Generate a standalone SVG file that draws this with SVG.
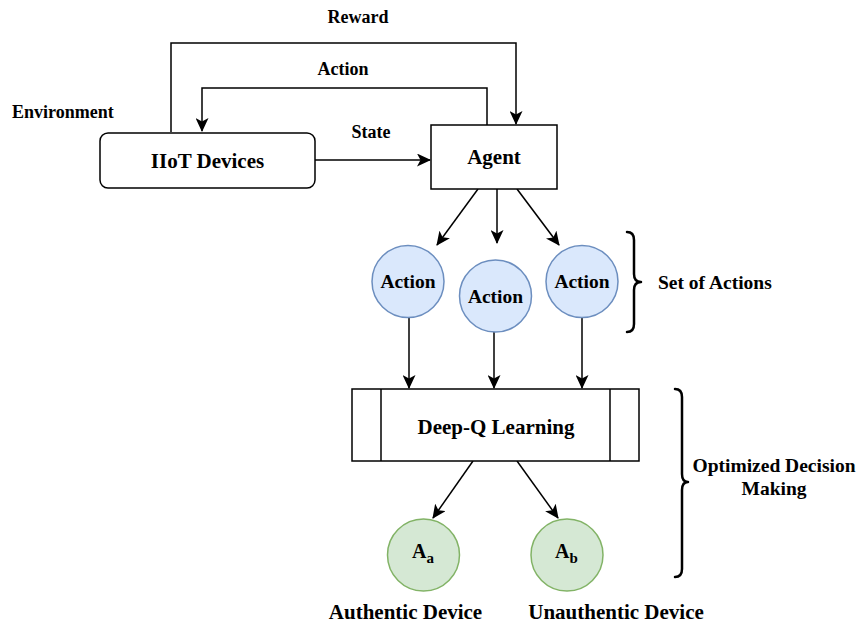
<svg xmlns="http://www.w3.org/2000/svg" width="858" height="625" viewBox="0 0 858 625">
  <style>
    .lbl { font-family: "Liberation Serif", "Times New Roman", serif; font-weight: bold; fill: #000; }
    .node { font-size: 21px; }
    .side { font-size: 19.5px; }
    .edge { font-size: 18px; }
    .box { fill: #fff; stroke: #000; stroke-width: 1.5; }
    .act { fill: #dae8fc; stroke: #6c8ebf; stroke-width: 1.5; }
    .out { fill: #d5e8d4; stroke: #82b366; stroke-width: 1.5; }
    .conn { fill: none; stroke: #000; stroke-width: 1.5; }
    .brace { fill: none; stroke: #000; stroke-width: 2.5; stroke-linecap: round; stroke-linejoin: round; }
  </style>
  <defs>
    <marker id="arrow" markerUnits="userSpaceOnUse" markerWidth="15" markerHeight="13" refX="13" refY="6.5" orient="auto">
      <path d="M0,0 L14,6.5 L0,13 L3.5,6.5 Z" fill="#000"/>
    </marker>
  </defs>
  <rect width="858" height="625" fill="#fff"/>

  <!-- loop labels -->
  <text class="lbl edge" x="358" y="23" text-anchor="middle">Reward</text>
  <text class="lbl edge" x="343" y="75" text-anchor="middle">Action</text>
  <text class="lbl edge" x="12" y="118">Environment</text>
  <text class="lbl edge" x="371" y="138" text-anchor="middle">State</text>

  <!-- connectors -->
  <g id="connectors">
    <path class="conn" d="M171,132 V43 H516 V124" marker-end="url(#arrow)"/>
    <path class="conn" d="M487,125 V88 H202 V131" marker-end="url(#arrow)"/>
    <path class="conn" d="M315,160 H430" marker-end="url(#arrow)"/>
    <path class="conn" d="M478,189 L437,245" marker-end="url(#arrow)"/>
    <path class="conn" d="M497,189 V243" marker-end="url(#arrow)"/>
    <path class="conn" d="M517,189 L559,245" marker-end="url(#arrow)"/>
    <path class="conn" d="M409,317 V388" marker-end="url(#arrow)"/>
    <path class="conn" d="M494,332 V388" marker-end="url(#arrow)"/>
    <path class="conn" d="M582,317 V388" marker-end="url(#arrow)"/>
    <path class="conn" d="M473,461 L433,518" marker-end="url(#arrow)"/>
    <path class="conn" d="M517,461 L558,518" marker-end="url(#arrow)"/>
  </g>

  <g id="iiot">
    <rect class="box" x="100" y="133" width="215" height="55" rx="8"/>
    <text class="lbl node" x="207.5" y="168" text-anchor="middle">IIoT Devices</text>
  </g>

  <g id="agent">
    <rect class="box" x="431" y="125" width="126" height="64"/>
    <text class="lbl node" x="494" y="164" text-anchor="middle">Agent</text>
  </g>

  <g id="action1">
    <circle class="act" cx="408" cy="281.5" r="36"/>
    <text class="lbl side" x="408" y="288" text-anchor="middle">Action</text>
  </g>
  <g id="action2">
    <circle class="act" cx="495.5" cy="296" r="36"/>
    <text class="lbl side" x="495.5" y="302.5" text-anchor="middle">Action</text>
  </g>
  <g id="action3">
    <circle class="act" cx="582" cy="281.5" r="36"/>
    <text class="lbl side" x="582" y="288" text-anchor="middle">Action</text>
  </g>

  <g id="set-of-actions">
    <path class="brace" d="M627,232 Q634,232 634,240 V274 Q634,282 641,282 Q634,282 634,290 V324 Q634,332 627,332"/>
    <text class="lbl side" x="658" y="288.5">Set of Actions</text>
  </g>

  <g id="deepq">
    <rect class="box" x="352" y="389" width="287" height="72"/>
    <line class="conn" x1="381" y1="389" x2="381" y2="461"/>
    <line class="conn" x1="610" y1="389" x2="610" y2="461"/>
    <text class="lbl node" x="496" y="434" text-anchor="middle">Deep-Q Learning</text>
  </g>

  <g id="optimized">
    <path class="brace" d="M675,389 Q682,389 682,397 V474 Q682,482 688,482 Q682,482 682,490 V569 Q682,577 675,577"/>
    <text class="lbl side" x="774" y="472" text-anchor="middle">Optimized Decision</text>
    <text class="lbl side" x="774" y="495" text-anchor="middle">Making</text>
  </g>

  <g id="authentic">
    <circle class="out" cx="423.5" cy="555" r="36"/>
    <text class="lbl" font-size="20" x="412" y="558">A<tspan font-size="15" dy="5">a</tspan></text>
    <text class="lbl node" x="405.5" y="619" text-anchor="middle">Authentic Device</text>
  </g>

  <g id="unauthentic">
    <circle class="out" cx="567" cy="555" r="36"/>
    <text class="lbl" font-size="20" x="555" y="558">A<tspan font-size="15" dy="5">b</tspan></text>
    <text class="lbl node" x="616" y="619" text-anchor="middle">Unauthentic Device</text>
  </g>
</svg>
